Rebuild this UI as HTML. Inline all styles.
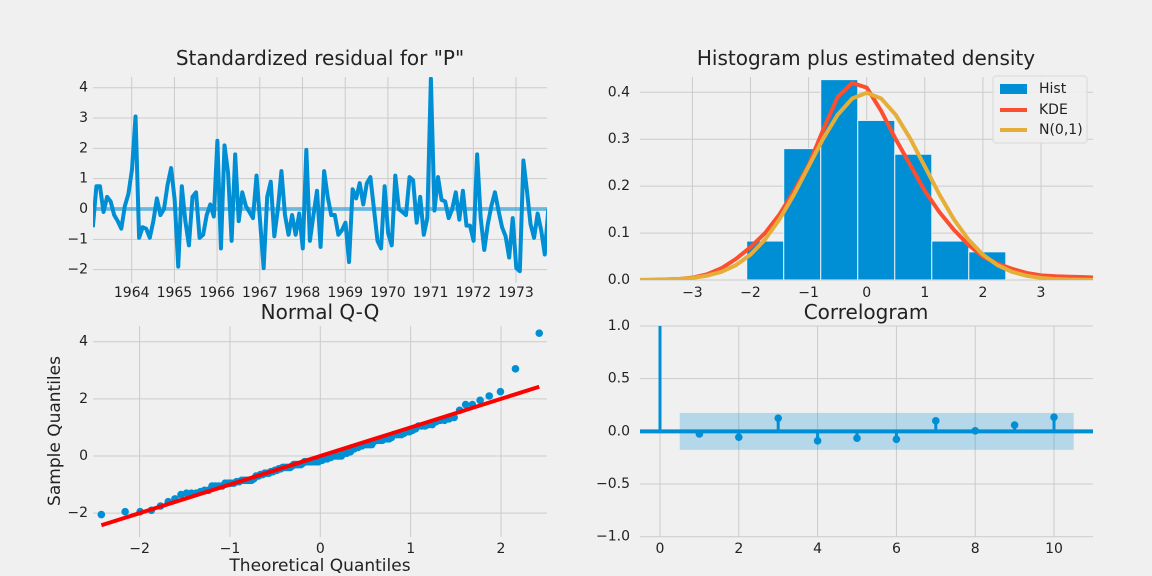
<!DOCTYPE html>
<html><head><meta charset="utf-8">
<style>
html,body{margin:0;padding:0;background:#f0f0f0;}
svg{display:block;font-family:"DejaVu Sans","Liberation Sans",sans-serif;}
</style></head>
<body>
<svg id="fig" width="1152" height="576" viewBox="0 0 1152 576" xmlns="http://www.w3.org/2000/svg">
<rect x="0" y="0" width="1152" height="576" fill="#f0f0f0"/>
</svg>
<script>
// ---- residual series (monthly, starting early 1963) ----
const residStartYear = 1963.09;
const residValues = [-0.6,0.75,0.75,-0.1,0.4,0.25,-0.2,-0.4,-0.65,0.1,0.5,1.3,3.05,-0.95,-0.6,-0.65,-0.95,-0.4,0.35,-0.2,0.0,0.8,1.35,0.3,-1.9,0.75,-0.4,-1.2,0.4,0.55,-0.95,-0.85,-0.2,0.15,-0.25,2.25,-1.3,2.1,1.2,-1.05,1.8,-0.4,0.55,0.1,-0.1,-0.3,1.1,-0.4,-1.95,0.4,0.9,-0.9,0.0,1.25,-0.2,-0.85,-0.2,-0.85,-0.15,-1.3,1.95,-1.05,-0.2,0.6,-1.25,1.25,0.4,-0.2,-0.2,-0.85,-0.7,-0.45,-1.75,0.65,0.35,0.85,0.15,0.85,1.05,0.0,-1.05,-1.3,0.75,-0.8,-1.2,1.1,0.0,-0.1,-0.2,1.05,0.95,-0.45,0.4,-0.85,-0.3,4.3,-0.05,1.05,0.3,0.25,-0.3,0.0,0.55,-0.35,0.6,-0.55,-0.55,-1.05,1.8,-0.3,-1.35,-0.5,0.1,0.55,-0.05,-0.6,-0.9,-1.6,-0.3,-1.95,-2.05,1.6,0.6,-0.5,-0.95,-0.15,-0.7,-1.5,0.0];
const residYTicks = [-2,-1,0,1,2,3,4];
const residXTicks = [1964,1965,1966,1967,1968,1969,1970,1971,1972,1973];
// ---- histogram ----
const histEdges = [-2.065,-1.428,-0.791,-0.154,0.483,1.12,1.757,2.394,3.031,3.668,4.305];
const histHeights = [0.083,0.28,0.427,0.34,0.268,0.083,0.06,0,0,0.01];
const densityX = [-4,-3.75,-3.5,-3.25,-3,-2.75,-2.5,-2.25,-2,-1.75,-1.5,-1.25,-1,-0.75,-0.5,-0.25,0,0.25,0.5,0.75,1,1.25,1.5,1.75,2,2.25,2.5,2.75,3,3.25,3.5,3.75,4];
const kdeValues = [0,0,0.001,0.002,0.005,0.012,0.025,0.045,0.07,0.1,0.14,0.19,0.245,0.32,0.39,0.42,0.41,0.36,0.3,0.245,0.19,0.145,0.107,0.075,0.05,0.035,0.024,0.015,0.01,0.008,0.007,0.006,0.005];
const normalValues = [0.0001,0.0004,0.0009,0.002,0.0044,0.0091,0.0175,0.0317,0.054,0.0863,0.1295,0.1826,0.242,0.3011,0.3521,0.3867,0.3989,0.3867,0.3521,0.3011,0.242,0.1826,0.1295,0.0863,0.054,0.0317,0.0175,0.0091,0.0044,0.002,0.0009,0.0004,0.0001];
const histXTicks = [-3,-2,-1,0,1,2,3];
const histYTicks = [0,0.1,0.2,0.3,0.4];
const histYLabels = ["0.0","0.1","0.2","0.3","0.4"];
// ---- QQ ----
const qqXTicks = [-2,-1,0,1,2];
const qqYTicks = [-2,0,2,4];
// ---- correlogram ----
const acfLags = [0,1,2,3,4,5,6,7,8,9,10];
const acfValues = [1.0,-0.025,-0.055,0.125,-0.09,-0.065,-0.075,0.1,0.005,0.06,0.135];
const acfConf = 0.175;
const acfXTicks = [0,2,4,6,8,10];
const acfYTicks = [-1,-0.5,0,0.5,1];
const acfYLabels = ["\u22121.0","\u22120.5","0.0","0.5","1.0"];

const NS = "http://www.w3.org/2000/svg";
const svg = document.getElementById('fig');
const BLUE = "#008fd5", RED = "#fc4f30", YEL = "#e5ae38", GRID = "#cbcbcb";

function mk(parent, tag, attrs, name) {
  const el = document.createElementNS(NS, tag);
  for (const k in attrs) el.setAttribute(k, attrs[k]);
  
  
  parent.appendChild(el);
  return el;
}
function txt(parent, x, y, s, size, anchor, name, extra) {
  const t = mk(parent, 'text', Object.assign({x: x, y: y, 'font-size': size, 'text-anchor': anchor || 'middle', fill: '#222', 'dominant-baseline': 'central'}, extra || {}), name);
  t.textContent = s;
  return t;
}
function fmt(v) { return (v < 0 ? "\u2212" : "") + Math.abs(v); }
function scale(d0, d1, r0, r1) { return v => r0 + (v - d0) / (d1 - d0) * (r1 - r0); }
function panel(name, x0, x1, y0, y1) {
  const g = mk(svg, 'g', {}, name);
  const cid = name + '-clip';
  const defs = mk(g, 'defs', {}, name + '-defs');
  const cp = mk(defs, 'clipPath', {id: cid}, name + '-clip');
  mk(cp, 'rect', {x: x0, y: y0, width: x1 - x0, height: y1 - y0}, name + '-clip-rect');
  const grid = mk(g, 'g', {}, name + '-grid');
  const plot = mk(g, 'g', {'clip-path': 'url(#' + cid + ')'}, name + '-plot-area');
  return {g, grid, plot};
}
function grids(p, xs, ys, fx, fy, x0, x1, y0, y1, xl, yl, nm, xlabY, ylabX) {
  xs.forEach((v, i) => {
    mk(p.grid, 'line', {x1: fx(v), x2: fx(v), y1: y0, y2: y1, stroke: GRID, 'stroke-width': 1}, nm + '-x-gridline');
    txt(p.g, fx(v), xlabY, xl ? xl[i] : fmt(v), 14, 'middle', nm + '-x-tick-label');
  });
  ys.forEach((v, i) => {
    mk(p.grid, 'line', {x1: x0, x2: x1, y1: fy(v), y2: fy(v), stroke: GRID, 'stroke-width': 1}, nm + '-y-gridline');
    txt(p.g, ylabX, fy(v), yl ? yl[i] : fmt(v), 14, 'end', nm + '-y-tick-label');
  });
}

// ===== Panel 1: residuals =====
(function () {
  const x0 = 93, x1 = 547, y0 = 77, y1 = 283;
  const fx = scale(1964, 1973, 131.7, 516), fy = scale(0, 4, 209, 87.7);
  const p = panel('residual-panel', x0, x1, y0, y1);
  grids(p, residXTicks, residYTicks, fx, fy, x0, x1, y0, y1, residXTicks.map(String), null, 'residual', 293, 88);
  txt(p.g, 320, 58, 'Standardized residual for "P"', 20, 'middle', 'residual-title');
  mk(p.plot, 'line', {x1: x0, x2: x1, y1: fy(0), y2: fy(0), stroke: BLUE, 'stroke-opacity': 0.5, 'stroke-width': 4}, 'zero-reference-line');
  const pts = residValues.map((v, i) => fx(residStartYear + i / 12).toFixed(2) + ',' + fy(v).toFixed(2)).join(' ');
  mk(p.plot, 'polyline', {points: pts, fill: 'none', stroke: BLUE, 'stroke-width': 4, 'stroke-linejoin': 'round'}, 'residual-line');
})();

// ===== Panel 2: histogram =====
(function () {
  const x0 = 640, x1 = 1093, y0 = 77, y1 = 280;
  const fx = scale(0, 3, 866.7, 1041), fy = scale(0, 0.4, 280, 92.3);
  const p = panel('histogram-panel', x0, x1, y0, y1);
  grids(p, histXTicks, histYTicks, fx, fy, x0, x1, y0, y1, null, histYLabels, 'histogram', 293, 630);
  txt(p.g, 866, 58, 'Histogram plus estimated density', 20, 'middle', 'histogram-title');
  histHeights.forEach((h, i) => {
    if (h <= 0) return;
    const a = fx(histEdges[i]), b = fx(histEdges[i + 1]);
    mk(p.plot, 'rect', {x: a, y: fy(h), width: b - a, height: fy(0) - fy(h), fill: BLUE, stroke: '#e6f2fa', 'stroke-width': 1}, 'hist-bar');
  });
  const kp = densityX.map((x, i) => fx(x).toFixed(2) + ',' + fy(kdeValues[i]).toFixed(2)).join(' ');
  const np = densityX.map((x, i) => fx(x).toFixed(2) + ',' + fy(normalValues[i]).toFixed(2)).join(' ');
  mk(p.plot, 'polyline', {points: kp, fill: 'none', stroke: RED, 'stroke-width': 4, 'stroke-linejoin': 'round'}, 'kde-line');
  mk(p.plot, 'polyline', {points: np, fill: 'none', stroke: YEL, 'stroke-width': 4, 'stroke-linejoin': 'round'}, 'normal-density-line');
  const lg = mk(p.g, 'g', {}, 'legend');
  mk(lg, 'rect', {x: 993, y: 76, width: 94, height: 67, rx: 3, fill: '#f0f0f0', 'fill-opacity': 0.9, stroke: '#d8d8d8'}, 'legend-frame');
  mk(lg, 'rect', {x: 1000, y: 84, width: 27, height: 10, fill: BLUE}, 'legend-hist-swatch');
  txt(lg, 1039, 89, 'Hist', 14, 'start', 'legend-hist-label');
  mk(lg, 'line', {x1: 1000, x2: 1027, y1: 110, y2: 110, stroke: RED, 'stroke-width': 4}, 'legend-kde-swatch');
  txt(lg, 1039, 110, 'KDE', 14, 'start', 'legend-kde-label');
  mk(lg, 'line', {x1: 1000, x2: 1027, y1: 130, y2: 130, stroke: YEL, 'stroke-width': 4}, 'legend-normal-swatch');
  txt(lg, 1039, 130, 'N(0,1)', 14, 'start', 'legend-normal-label');
})();

// ===== Panel 3: Q-Q =====
function invNorm(p) {
  const a = [-39.69683028665376, 220.9460984245205, -275.9285104469687, 138.357751867269, -30.66479806614716, 2.506628277459239];
  const b = [-54.47609879822406, 161.5858368580409, -155.6989798598866, 66.80131188771972, -13.28068155288572];
  const c = [-0.007784894002430293, -0.3223964580411365, -2.400758277161838, -2.549732539343734, 4.374664141464968, 2.938163982698783];
  const d = [0.007784695709041462, 0.3224671290700398, 2.445134137142996, 3.754408661907416];
  const pl = 0.02425;
  let q, r;
  if (p < pl) { q = Math.sqrt(-2 * Math.log(p)); return (((((c[0]*q+c[1])*q+c[2])*q+c[3])*q+c[4])*q+c[5]) / ((((d[0]*q+d[1])*q+d[2])*q+d[3])*q+1); }
  if (p > 1 - pl) { q = Math.sqrt(-2 * Math.log(1 - p)); return -(((((c[0]*q+c[1])*q+c[2])*q+c[3])*q+c[4])*q+c[5]) / ((((d[0]*q+d[1])*q+d[2])*q+d[3])*q+1); }
  q = p - 0.5; r = q * q;
  return (((((a[0]*r+a[1])*r+a[2])*r+a[3])*r+a[4])*r+a[5])*q / (((((b[0]*r+b[1])*r+b[2])*r+b[3])*r+b[4])*r+1);
}
(function () {
  const x0 = 93, x1 = 547, y0 = 326, y1 = 537;
  const fx = scale(0, 2, 320.3, 501), fy = scale(0, 4, 456, 341.7);
  const p = panel('qq-panel', x0, x1, y0, y1);
  grids(p, qqXTicks, qqYTicks, fx, fy, x0, x1, y0, y1, null, null, 'qq', 549, 88);
  txt(p.g, 320, 312, 'Normal Q-Q', 20, 'middle', 'qq-title');
  txt(p.g, 320, 566, 'Theoretical Quantiles', 17, 'middle', 'qq-x-axis-title');
  txt(p.g, 55, 431, 'Sample Quantiles', 17, 'middle', 'qq-y-axis-title', {transform: 'rotate(-90 55 431)'});
  const sorted = residValues.slice().sort((a, b) => a - b);
  const n = sorted.length;
  const theo = sorted.map((v, i) => invNorm((i + 1) / (n + 1)));
  sorted.forEach((v, i) => {
    mk(p.plot, 'circle', {cx: fx(theo[i]), cy: fy(v), r: 3.8, fill: BLUE}, 'qq-point');
  });
  mk(p.plot, 'line', {x1: fx(theo[0]), y1: fy(theo[0]), x2: fx(theo[n - 1]), y2: fy(theo[n - 1]), stroke: '#ff0000', 'stroke-width': 4}, 'qq-reference-line');
})();

// ===== Panel 4: correlogram =====
(function () {
  const x0 = 640, x1 = 1093, y0 = 326, y1 = 537;
  const fx = scale(0, 10, 660, 1054), fy = scale(-1, 1, 536.7, 326);
  const p = panel('correlogram-panel', x0, x1, y0, y1);
  grids(p, acfXTicks, acfYTicks, fx, fy, x0, x1, y0, y1, null, acfYLabels, 'correlogram', 549, 630);
  txt(p.g, 866, 312, 'Correlogram', 20, 'middle', 'correlogram-title');
  mk(p.plot, 'rect', {x: fx(0.5), y: fy(acfConf), width: fx(10.5) - fx(0.5), height: fy(-acfConf) - fy(acfConf), fill: BLUE, 'fill-opacity': 0.25}, 'confidence-band');
  mk(p.g, 'line', {x1: x0, x2: x1, y1: fy(0), y2: fy(0), stroke: BLUE, 'stroke-width': 4}, 'acf-zero-line');
  acfLags.forEach((lag, i) => {
    mk(p.g, 'line', {x1: fx(lag), x2: fx(lag), y1: fy(0), y2: fy(acfValues[i]), stroke: BLUE, 'stroke-width': 3}, 'acf-stem');
    if (lag > 0) mk(p.g, 'circle', {cx: fx(lag), cy: fy(acfValues[i]), r: 3.8, fill: BLUE}, 'acf-marker');
  });
})();
</script>
</body></html>
